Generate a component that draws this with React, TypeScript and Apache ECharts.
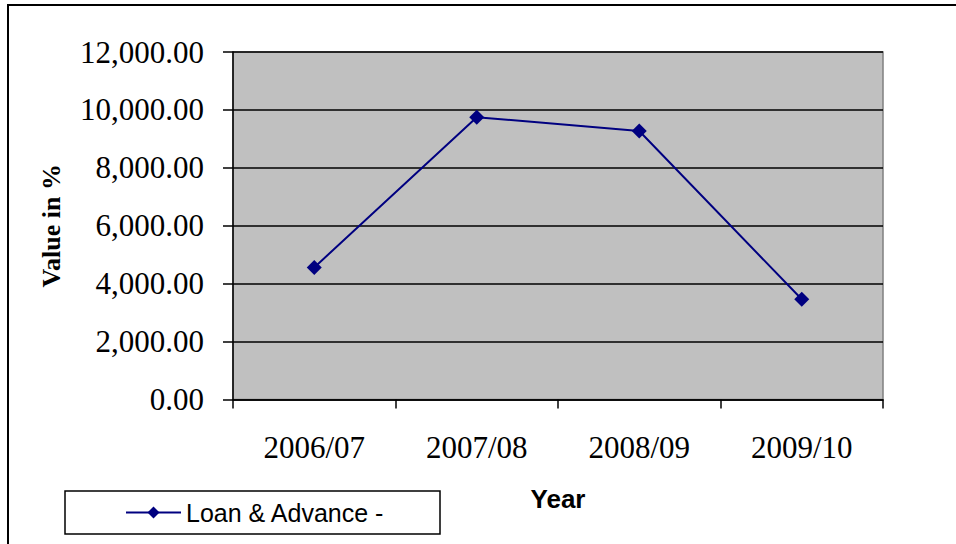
import React, { useEffect, useRef } from "react";
import * as echarts from "echarts";

const categories = ["2006/07", "2007/08", "2008/09", "2009/10"];
const loanAdvance = [4560, 9750, 9270, 3460];
const seriesName = "Loan & Advance -";
const xAxisTitle = "Year";
const yAxisTitle = "Value in %";

const SERIF = "'Liberation Serif', 'Times New Roman', serif";
const SANS = "'Liberation Sans', Arial, sans-serif";

export default function App() {
  const ref = useRef<HTMLDivElement>(null);
  useEffect(() => {
    document.body.style.margin = "0";
    const chart = echarts.init(ref.current!, null, { renderer: "svg" });
    chart.setOption({
      animation: false,
      backgroundColor: "#ffffff",
      grid: {
        left: 233,
        top: 52,
        right: 73,
        bottom: 144.5,
        show: true,
        backgroundColor: "#c0c0c0",
        borderColor: "#808080",
        borderWidth: 1.5,
      },
      legend: {
        left: 125,
        top: 500,
        padding: 0,
        itemWidth: 55,
        itemHeight: 15,
        textStyle: { fontFamily: SANS, fontSize: 25, color: "#000" },
        data: [seriesName],
      },
      xAxis: {
        type: "category",
        data: categories,
        boundaryGap: true,
        name: xAxisTitle,
        nameLocation: "middle",
        nameGap: 86,
        nameTextStyle: { fontFamily: SANS, fontSize: 26, fontWeight: "bold", color: "#000" },
        axisLine: { show: true, lineStyle: { color: "#000", width: 1.5 } },
        axisTick: { show: true, length: 9, alignWithLabel: false, lineStyle: { color: "#000", width: 1.5 } },
        axisLabel: { fontFamily: SERIF, fontSize: 31, color: "#000", margin: 32 },
        splitLine: { show: false },
      },
      yAxis: {
        type: "value",
        min: 0,
        max: 12000,
        interval: 2000,
        name: yAxisTitle,
        nameLocation: "middle",
        nameGap: 169,
        nameTextStyle: { fontFamily: SERIF, fontSize: 26, fontWeight: "bold", color: "#000" },
        axisLine: { show: true, lineStyle: { color: "#000", width: 1.5 } },
        axisTick: { show: true, length: 10, lineStyle: { color: "#000", width: 1.5 } },
        axisLabel: {
          fontFamily: SERIF,
          fontSize: 31,
          color: "#000",
          margin: 29,
          formatter: (v: number) =>
            v.toLocaleString("en-US", { minimumFractionDigits: 2, maximumFractionDigits: 2 }),
        },
        splitLine: { show: true, lineStyle: { color: "#000", width: 1.5 } },
      },
      series: [
        {
          name: seriesName,
          type: "line",
          data: loanAdvance,
          symbol: "diamond",
          symbolSize: 15,
          itemStyle: { color: "#000080" },
          lineStyle: { color: "#000080", width: 2 },
        },
      ],
      graphic: [
        {
          type: "rect",
          shape: { x: 8, y: 5, width: 1000, height: 600 },
          style: { fill: "none", stroke: "#000", lineWidth: 2 },
          silent: true,
        },
        {
          type: "rect",
          shape: { x: 65, y: 491, width: 375, height: 43 },
          style: { fill: "none", stroke: "#000", lineWidth: 1.5 },
          silent: true,
        },
      ],
    });
    return () => chart.dispose();
  }, []);
  return (
    <div
      ref={ref}
      style={{ position: "absolute", left: 0, top: 0, width: 956, height: 544 }}
    />
  );
}
